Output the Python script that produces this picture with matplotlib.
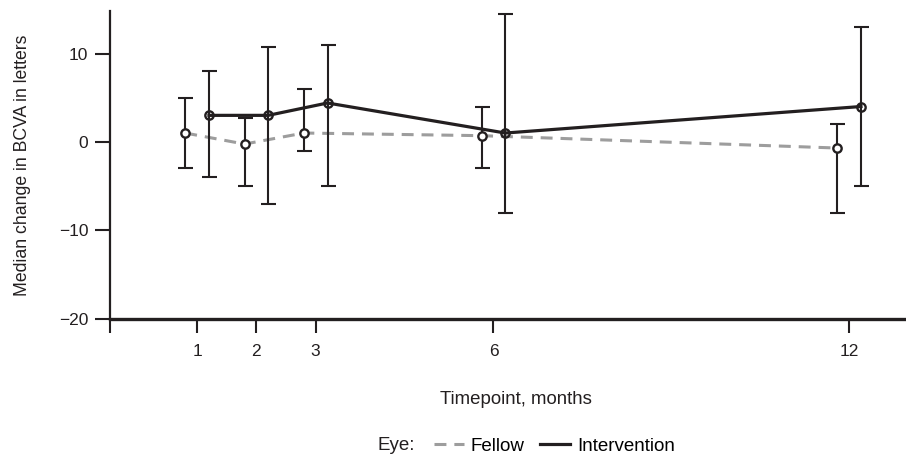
import matplotlib
matplotlib.use("Agg")
import matplotlib.pyplot as plt
from matplotlib.lines import Line2D

# data (median, lower/upper range)
months = [1, 2, 3, 6, 12]
fellow_med = [1, -0.25, 1, 0.7, -0.7]
fellow_lo = [-3, -5, -1, -3, -8]
fellow_hi = [5, 2.75, 6, 4, 2]
interv_med = [3, 3, 4.4, 1, 4]
interv_lo = [-4, -7, -5, -8, -5]
interv_hi = [8, 10.75, 11, 14.5, 13]
yticks = [-20, -10, 0, 10]

FONT = "Liberation Sans"
INK = "#231f20"
GREY = "#9d9d9d"
DASH = (3.9, 2.6)

fig = plt.figure(figsize=(9.06, 4.63), dpi=100)
ax = fig.add_axes([0.1214, 0.312, 0.8786, 0.664])

dodge = 0.2
xf = [m - dodge for m in months]
xi = [m + dodge for m in months]

# fellow eye: grey dashed
ax.plot(xf, fellow_med, color=GREY, lw=2.2, dashes=DASH, zorder=2)
ax.errorbar(xf, fellow_med,
            yerr=[[m - l for m, l in zip(fellow_med, fellow_lo)],
                  [h - m for m, h in zip(fellow_med, fellow_hi)]],
            fmt="none", ecolor=INK, elinewidth=1.5, capsize=5.4, capthick=1.5, zorder=3)
ax.plot(xf, fellow_med, "o", ms=6, mfc="white", mec=INK, mew=1.7, zorder=4)

# intervention eye: black solid
ax.plot(xi, interv_med, color=INK, lw=2.3, zorder=2)
ax.errorbar(xi, interv_med,
            yerr=[[m - l for m, l in zip(interv_med, interv_lo)],
                  [h - m for m, h in zip(interv_med, interv_hi)]],
            fmt="none", ecolor=INK, elinewidth=1.5, capsize=5.4, capthick=1.5, zorder=3)
ax.plot(xi, interv_med, "o", ms=6, mfc="none", mec=INK, mew=1.7, zorder=4)

ax.set_xlim(-0.47, 12.96)
ax.set_ylim(-20, 14.8)
ax.set_xticks(months)
ax.set_xticks([-0.47], minor=True)
ax.set_yticks(yticks)
ax.set_yticklabels(["\u2212" + str(-v) if v < 0 else str(v) for v in yticks])

for s in ["top", "right"]:
    ax.spines[s].set_visible(False)
ax.spines["left"].set_linewidth(1.6)
ax.spines["bottom"].set_linewidth(2.4)
for s in ["left", "bottom"]:
    ax.spines[s].set_color(INK)
ax.tick_params(axis="x", which="both", length=10, width=1.5, color=INK, pad=8)
ax.tick_params(axis="y", length=10.5, width=1.5, color=INK, pad=5)
for lab in ax.get_xticklabels() + ax.get_yticklabels():
    lab.set_fontfamily(FONT)
    lab.set_fontsize(12.5)
    lab.set_color(INK)

fig.text(516 / 906, 1 - 399 / 463, "Timepoint, months", ha="center", va="center",
         fontfamily=FONT, fontsize=13.4, color=INK)
ax.set_ylabel("Median change in BCVA in letters", fontfamily=FONT, fontsize=12.7,
              color=INK, labelpad=20)

handles = [Line2D([], [], color=GREY, lw=2.2, dashes=DASH),
           Line2D([], [], color=INK, lw=2.3)]
fig.legend(handles, ["Fellow", "Intervention"], loc="center left",
           bbox_to_anchor=(434 / 906, 1 - 446 / 463), ncol=2, frameon=False,
           borderpad=0, borderaxespad=0, handlelength=1.6, handletextpad=0.35,
           columnspacing=0.85, prop={"family": FONT, "size": 13.5})
fig.text(396 / 906, 1 - 446 / 463, "Eye:", ha="center", va="center", fontfamily=FONT,
         fontsize=13.5, color=INK)

fig.savefig("out.png", dpi=100)
